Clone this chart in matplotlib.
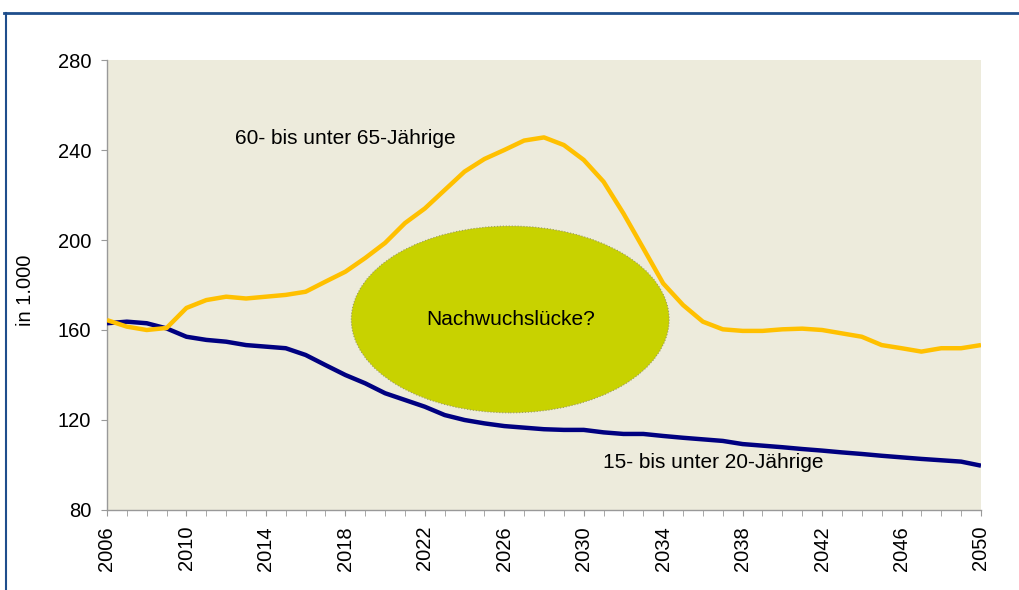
import matplotlib
matplotlib.use("Agg")
import matplotlib.pyplot as plt
from matplotlib.patches import Ellipse
from matplotlib.lines import Line2D
from matplotlib.ticker import MultipleLocator

plt.rcParams['font.family'] = ['Liberation Sans', 'DejaVu Sans']

years = list(range(2006, 2051))
age_60_65 = [164.4, 161.5, 160.0, 160.9, 169.8, 173.3, 174.8, 174.0, 174.8, 175.6,
             177.0, 181.5, 185.9, 192.0, 198.7, 207.5, 214.0, 222.2, 230.4, 236.0,
             240.0, 244.2, 245.6, 242.2, 235.6, 225.9, 211.8, 196.3, 180.7, 171.1,
             163.7, 160.3, 159.6, 159.6, 160.3, 160.6, 160.0, 158.5, 157.0, 153.3,
             151.9, 150.4, 151.9, 151.9, 153.3]
age_15_20 = [163.0, 163.7, 163.0, 160.7, 157.0, 155.6, 154.8, 153.3, 152.6, 151.9,
             148.9, 144.4, 140.0, 136.3, 131.9, 128.9, 125.9, 122.2, 120.0, 118.5,
             117.3, 116.6, 115.9, 115.6, 115.6, 114.5, 113.8, 113.8, 112.9, 112.1,
             111.4, 110.7, 109.3, 108.6, 107.9, 107.1, 106.4, 105.6, 104.9, 104.1,
             103.4, 102.7, 102.1, 101.5, 99.7]
x_ticks = list(range(2006, 2051, 4))
y_ticks = [80, 120, 160, 200, 240, 280]
label_60_65 = "60- bis unter 65-Jährige"
label_15_20 = "15- bis unter 20-Jährige"
gap_label = "Nachwuchslücke?"
y_label = "in 1.000"

fig = plt.figure(figsize=(10.19, 5.90), dpi=100)
ax = fig.add_axes([0.105, 0.1356, 0.8577, 0.7627])
ax.set_facecolor('#EDEBDC')

ell = Ellipse((2026.3, 164.7), 16.0, 83.0, facecolor='#C8D200', edgecolor='#9A9A60',
              linestyle=':', linewidth=0.8, zorder=1)
ax.add_patch(ell)

ax.plot(years, age_15_20, color='#000080', linewidth=3.2, zorder=3, solid_capstyle='butt')
ax.plot(years, age_60_65, color='#FFC000', linewidth=3.2, zorder=4, solid_capstyle='butt')

ax.text(2026.3, 164.5, gap_label, ha='center', va='center', fontsize=15, color='black', zorder=5)
ax.text(2018.0, 245.3, label_60_65, ha='center', va='center', fontsize=15, color='black')
ax.text(2036.5, 100.9, label_15_20, ha='center', va='center', fontsize=15, color='black')

ax.set_xlim(2006, 2050)
ax.set_ylim(80, 280)
ax.set_xticks(x_ticks)
ax.set_xticklabels([str(t) for t in x_ticks])
ax.xaxis.set_minor_locator(MultipleLocator(1))
ax.set_yticks(y_ticks)
ax.set_yticklabels([str(t) for t in y_ticks])
ax.tick_params(axis='x', which='both', direction='out', length=4.5, color='#999999',
               labelsize=14.5, labelrotation=90, pad=7)
ax.tick_params(axis='y', which='both', direction='out', length=4.5, color='#999999',
               labelsize=14.5, pad=7)
for s in ['top', 'right']:
    ax.spines[s].set_visible(False)
for s in ['left', 'bottom']:
    ax.spines[s].set_color('#999999')
    ax.spines[s].set_linewidth(1.0)
ax.set_ylabel(y_label, fontsize=14.5)
ax.yaxis.set_label_coords(-0.0824, 0.489)

# outer frame (top and left)
fig.add_artist(Line2D([0.004, 1.0], [0.978, 0.978], transform=fig.transFigure,
                      color='#1F4E8C', linewidth=2.0))
fig.add_artist(Line2D([0.0063, 0.0063], [0.0, 0.978], transform=fig.transFigure,
                      color='#1F4E8C', linewidth=1.5))

fig.savefig('out.png', dpi=100)
